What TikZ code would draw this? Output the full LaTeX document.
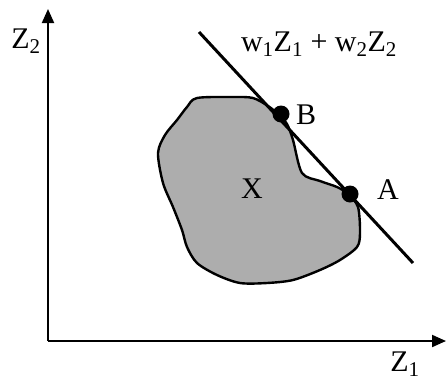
\documentclass[tikz,border=0pt]{standalone}
\usepackage{fontspec}
\setmainfont{Liberation Serif}
\usetikzlibrary{arrows.meta}
\begin{document}
\begin{tikzpicture}[x=1pt,y=-1pt,
  axis/.style={line width=2pt,-{Triangle[length=14pt,width=12pt]}},
  lbl/.style={font=\fontsize{30}{34}\selectfont, inner sep=0pt},
  dot/.style={circle,fill=black,minimum size=17pt,inner sep=0pt},
  blob/.style={draw=black,line width=2.4pt,fill=black!32}]
\useasboundingbox (0,0) rectangle (446,383);
% axes
\coordinate (O) at (48,341);
\coordinate (Ytip) at (48,9);
\coordinate (Xtip) at (446,341);
\draw[axis] (O) -- (Ytip);
\draw[axis] (O) -- (Xtip);
\node[lbl] (z2) at (26,41) {Z\textsubscript{2}};
\node[lbl] (z1) at (405,364) {Z\textsubscript{1}};
% region X
\draw[blob] plot[smooth cycle,tension=0.5] coordinates {
 (197,98) (233,97) (253,98) (268,106) (278,114) (287,124) (293,140) (302,173)
 (320,181) (337,187) (348,194) (358,207) (360,233) (357,247) (340,260)
 (320,270) (293,280) (267,283) (240,283) (217,275) (197,263) (187,247)
 (182,230) (173,207) (163,183) (158,153) (165,135) (177,120) (187,107)};
\node[lbl] (x) at (252,189) {X};
% line
\coordinate (L1) at (199,32);
\coordinate (L2) at (413,263);
\draw[line width=3pt] (L1) -- (L2);
\node[dot] (B) at (281,114) {};
\node[dot] (A) at (350,194) {};
\node[lbl] (bl) at (306,115) {B};
\node[lbl] (al) at (388,190) {A};
\node[lbl] (eq) at (319,44) {w\textsubscript{1}Z\textsubscript{1} + w\textsubscript{2}Z\textsubscript{2}};
\end{tikzpicture}
\end{document}
